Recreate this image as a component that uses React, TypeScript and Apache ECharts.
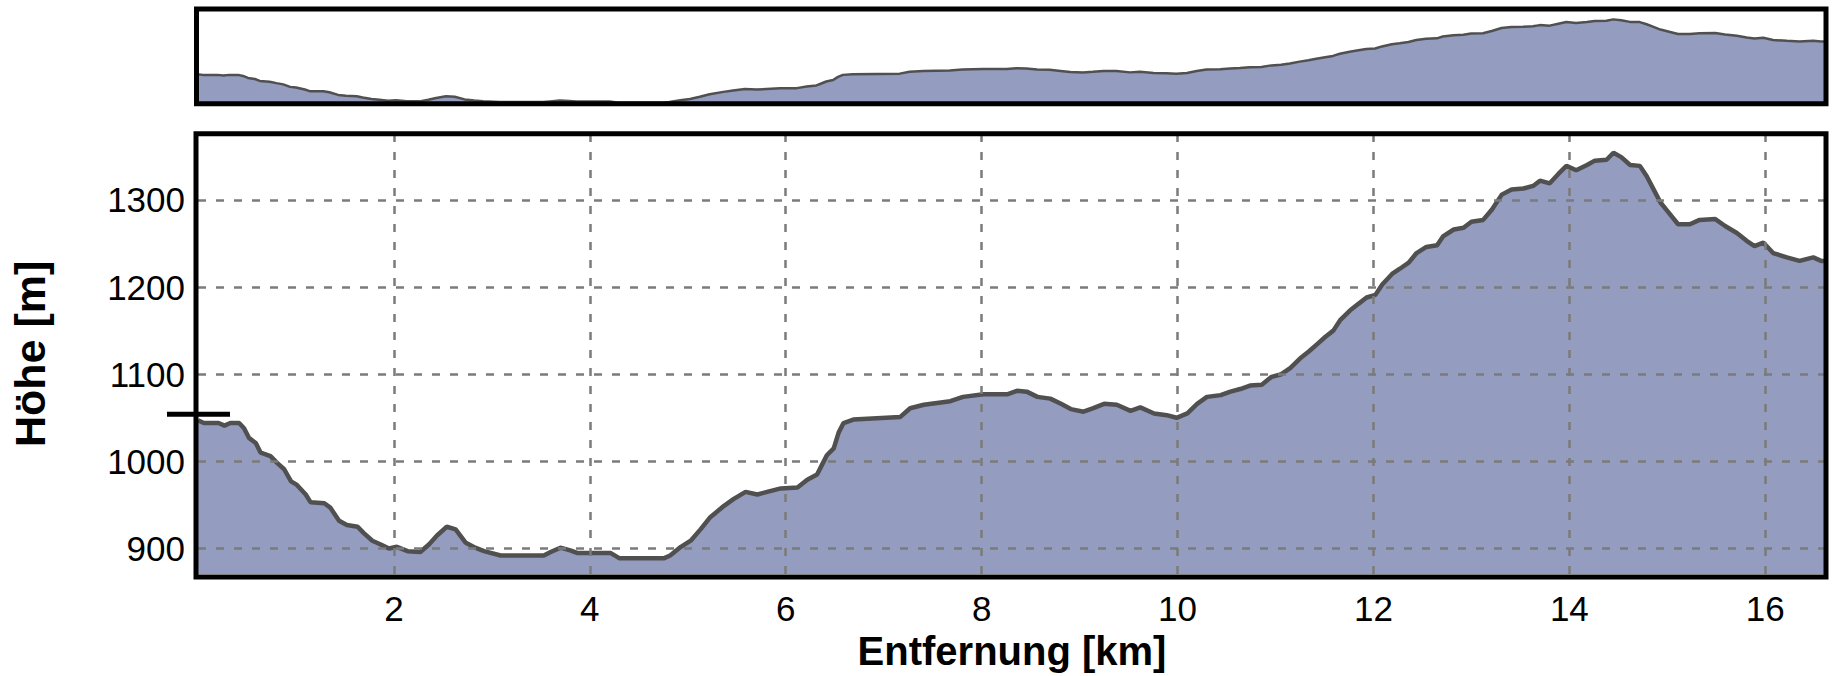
import { useEffect, useRef } from "react";
import * as echarts from "echarts";

// Distance along the route (km) and elevation (m)
const distanceKm = [
  0, 0.06, 0.21, 0.27, 0.33, 0.42, 0.47, 0.52, 0.59, 0.64, 0.74, 0.81, 0.88, 0.95, 1.01, 1.1, 1.15, 1.29,
  1.35, 1.44, 1.52, 1.63, 1.69, 1.78, 1.86, 1.95, 2.03, 2.14, 2.27, 2.36, 2.44, 2.54, 2.63, 2.73, 2.83,
  2.92, 3.09, 3.53, 3.6, 3.7, 3.8, 3.87, 4.21, 4.3, 4.76, 4.82, 4.93, 5.03, 5.13, 5.23, 5.37, 5.47, 5.59,
  5.71, 5.81, 5.95, 6.12, 6.22, 6.32, 6.37, 6.42, 6.49, 6.54, 6.59, 6.69, 7.17, 7.27, 7.41, 7.68, 7.81,
  8.02, 8.26, 8.36, 8.46, 8.57, 8.7, 8.81, 8.91, 9.04, 9.14, 9.25, 9.38, 9.52, 9.62, 9.76, 9.89, 9.99,
  10.1, 10.2, 10.3, 10.44, 10.54, 10.64, 10.74, 10.86, 10.96, 11.06, 11.15, 11.25, 11.34, 11.42, 11.51,
  11.59, 11.66, 11.76, 11.85, 11.93, 12.02, 12.09, 12.19, 12.27, 12.36, 12.44, 12.54, 12.65, 12.71, 12.82,
  12.92, 13.0, 13.12, 13.21, 13.31, 13.41, 13.53, 13.63, 13.7, 13.8, 13.89, 13.97, 14.07, 14.18, 14.26,
  14.38, 14.45, 14.53, 14.62, 14.72, 14.79, 14.86, 14.93, 15.01, 15.11, 15.23, 15.33, 15.49, 15.59, 15.71,
  15.81, 15.89, 15.98, 16.08, 16.22, 16.35, 16.49, 16.57, 16.62,
];
const elevationM = [
  1047, 1044, 1044, 1041, 1044, 1044, 1038, 1027, 1021, 1010, 1006, 998, 991, 977, 973, 962, 953, 952,
  947, 932, 927, 925, 918, 909, 905, 900, 902, 897, 896, 905, 915, 925, 922, 907, 901,
  897, 892, 892, 896, 901, 898, 895, 895, 889, 889, 892, 902, 909, 922, 936, 949, 957, 965,
  962, 965, 969, 970, 979, 985, 996, 1007, 1015, 1033, 1044, 1048, 1051, 1061, 1065, 1069, 1074,
  1077, 1077, 1081, 1080, 1074, 1072, 1066, 1060, 1057, 1061, 1066, 1065, 1058, 1062, 1055, 1053, 1050,
  1055, 1066, 1074, 1076, 1080, 1083, 1087, 1088, 1097, 1100, 1107, 1118, 1126, 1134, 1143,
  1150, 1162, 1173, 1181, 1188, 1191, 1203, 1215, 1221, 1228, 1239, 1246, 1248, 1258, 1266,
  1268, 1275, 1277, 1289, 1306, 1312, 1313, 1316, 1322, 1319, 1330, 1339, 1334, 1340, 1345,
  1346, 1354, 1349, 1340, 1339, 1327, 1312, 1297, 1286, 1272, 1272, 1277, 1278, 1270, 1262,
  1253, 1247, 1251, 1239, 1234, 1230, 1234, 1230, 1230,
];

const xTicks = [2, 4, 6, 8, 10, 12, 14, 16];
const yTicks = [900, 1000, 1100, 1200, 1300];
const markerElevation = 1054;

const xMax = 16.62;
const mainYMin = 870.7;
const mainYMax = 1375.9;
const overviewYMin = 883;
const overviewYMax = 1412;

const FONT = "'Liberation Sans', Arial, sans-serif";
const FILL = "#949cbf";
const LINE = "#505050";

export default function App() {
  const ref = useRef<HTMLDivElement>(null);

  useEffect(() => {
    if (!ref.current) return;
    const chart = echarts.init(ref.current, null, { renderer: "svg" });
    const points = distanceKm.map((d, i) => [d, elevationM[i]]);

    chart.setOption({
      animation: false,
      grid: [
        { left: 197, top: 9, width: 1629, height: 94.7 },
        { left: 197, top: 133.7, width: 1629, height: 443.3 },
      ],
      xAxis: [
        { gridIndex: 0, type: "value", min: 0, max: xMax, show: false },
        {
          gridIndex: 1,
          type: "value",
          min: 0,
          max: xMax,
          axisLine: { show: false },
          axisTick: { show: false },
          splitLine: { show: false },
          axisLabel: {
            customValues: xTicks,
            formatter: (v: number) => String(v),
            fontSize: 35,
            color: "#000",
            fontFamily: FONT,
            margin: 17,
          },
          name: "Entfernung [km]",
          nameLocation: "middle",
          nameGap: 54,
          nameTextStyle: { fontSize: 40, fontWeight: "bold", color: "#000", fontFamily: FONT },
        },
      ],
      yAxis: [
        { gridIndex: 0, type: "value", min: overviewYMin, max: overviewYMax, show: false },
        {
          gridIndex: 1,
          type: "value",
          min: mainYMin,
          max: mainYMax,
          axisLine: { show: false },
          axisTick: { show: false },
          splitLine: { show: false },
          axisLabel: {
            customValues: yTicks,
            formatter: (v: number) => String(v),
            fontSize: 35,
            color: "#000",
            fontFamily: FONT,
            margin: 13,
            padding: [7, 0, 0, 0],
          },
          name: "Höhe [m]",
          nameLocation: "middle",
          nameGap: 147,
          nameRotate: 90,
          nameTextStyle: { fontSize: 43, fontWeight: "bold", color: "#000", fontFamily: FONT },
        },
      ],
      series: [
        {
          type: "line",
          xAxisIndex: 0,
          yAxisIndex: 0,
          data: points,
          symbol: "none",
          lineStyle: { color: LINE, width: 2.5 },
          areaStyle: { color: FILL, opacity: 1, origin: "start" },
          silent: true,
        },
        {
          type: "line",
          xAxisIndex: 1,
          yAxisIndex: 1,
          data: points,
          symbol: "none",
          lineStyle: { color: LINE, width: 4.5 },
          areaStyle: { color: FILL, opacity: 1, origin: "start" },
          silent: true,
          markLine: {
            silent: true,
            animation: false,
            symbol: ["none", "none"],
            label: { show: false },
            lineStyle: { color: "#7b7b7b", width: 2.5, type: [8, 10] },
            emphasis: { disabled: true },
            data: [
              ...yTicks.map((v) => ({ yAxis: v })),
              ...xTicks.map((v) => ({ xAxis: v })),
            ],
          },
        },
      ],
    });

    const p = chart.convertToPixel({ xAxisIndex: 1, yAxisIndex: 1 }, [0, markerElevation]) as number[];

    chart.setOption({
      graphic: [
        {
          type: "rect",
          z: 100,
          shape: { x: 196.5, y: 9, width: 1629.5, height: 94.7 },
          style: { fill: "none", stroke: "#000", lineWidth: 5 },
          silent: true,
        },
        {
          type: "rect",
          z: 100,
          shape: { x: 196, y: 133.7, width: 1630, height: 443.3 },
          style: { fill: "none", stroke: "#000", lineWidth: 5 },
          silent: true,
        },
        {
          type: "line",
          z: 101,
          shape: { x1: p[0] - 31, y1: p[1], x2: p[0] + 32, y2: p[1] },
          style: { stroke: "#000", lineWidth: 5 },
          silent: true,
        },
      ],
    });

    return () => chart.dispose();
  }, []);

  return (
    <div
      ref={ref}
      style={{ position: "fixed", left: 0, top: 0, width: 1833, height: 676, background: "#fff" }}
    />
  );
}
